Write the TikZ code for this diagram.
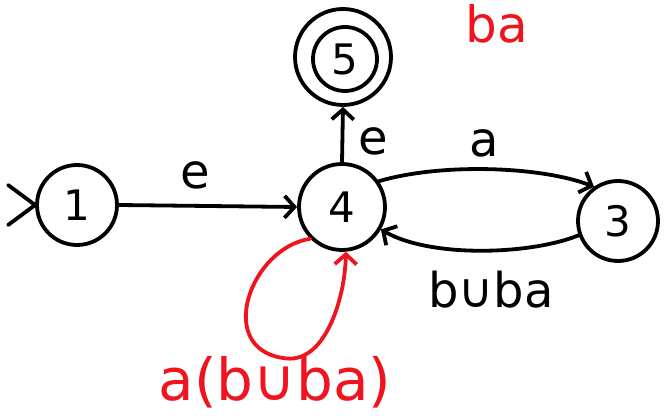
\documentclass[tikz,border=0pt]{standalone}
\usepackage{fontspec}
\setmainfont{DejaVu Sans}
\usetikzlibrary{arrows.meta,calc}
\definecolor{pen}{RGB}{240,20,30}
\begin{document}
\begin{tikzpicture}[x=1pt,y=1pt,line width=3.8pt,line cap=round,line join=round,
  state/.style={circle,draw,line width=3.8pt,inner sep=0pt,font=\fontsize{42}{46}\selectfont},
  lbl/.style={font=\fontsize{48}{52}\selectfont,inner sep=0pt},
  arr/.style={-{Straight Barb[length=10pt,width=22pt,line width=3.8pt]}}]
\useasboundingbox (0,0) rectangle (667,418);
\node[state,minimum width=80pt,minimum height=78pt] (n1) at (77,213) {1};
\node[state,minimum width=86pt,minimum height=86pt] (n4) at (342,211) {4};
\node[state,minimum width=80pt,minimum height=75pt] (n3) at (618,197) {3};
\node[state,minimum width=96pt,minimum height=88pt] (n5) at (343,361) {};
\node[state,minimum width=64pt,minimum height=64pt] (n5i) at (345,359) {5};
% initial marker
\draw ($(n1.west)+(-27,20)$) -- (n1.west) -- ++(-27,-20);
% transitions
\draw[arr] (n1.east) -- (n4.west);
\draw[arr] (n4.north) -- (n5.south);
\draw[arr] (n4.35) .. controls (440,255) and (540,252) .. (n3.125);
\draw[arr] (n3.200) .. controls (530,163) and (430,160) .. (n4.-30);
\draw[arr,draw=pen] (n4.225) .. controls (250,170) and (215,70) .. (283,60)
   .. controls (325,52) and (345,120) .. (n4.-85);
% labels
\node[lbl] (le1) at (195,243) {e};
\node[lbl] (le2) at (373,277) {e};
\node[lbl] (la) at (484,275) {a};
\node[lbl] (lbba) at (491,128) {b∪ba};
\node[lbl,text=pen,font=\fontsize{58}{62}\selectfont] (lloop) at (275,36) {a(b∪ba)};
\node[lbl,text=pen,font=\fontsize{50}{54}\selectfont] (lba) at (497,394) {ba};
\end{tikzpicture}
\end{document}
